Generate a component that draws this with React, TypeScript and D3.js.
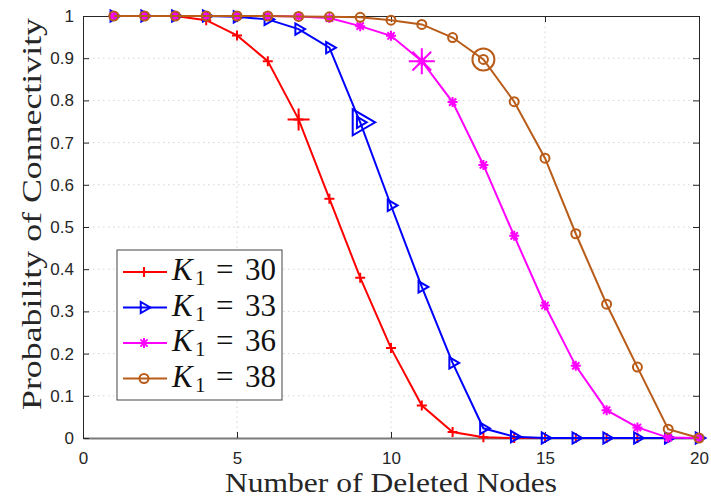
import React, { useRef, useEffect } from 'react';
import * as d3 from 'd3';

// number of deleted nodes (x axis)
const deletedNodes = [1, 2, 3, 4, 5, 6, 7, 8, 9, 10, 11, 12, 13, 14, 15, 16, 17, 18, 19, 20];

// probability of connectivity, one array per K1
const probK30 = [1, 1, 1, 0.99, 0.954, 0.893, 0.755, 0.567, 0.38, 0.213, 0.077, 0.014, 0.002, 0, 0, 0, 0, 0, 0, 0];
const probK33 = [1, 1, 1, 1, 0.998, 0.992, 0.969, 0.925, 0.748, 0.551, 0.358, 0.178, 0.023, 0.003, 0, 0, 0, 0, 0, 0];
const probK36 = [1, 1, 1, 1, 1, 1, 0.999, 0.995, 0.976, 0.953, 0.893, 0.796, 0.647, 0.479, 0.314, 0.171, 0.066, 0.025, 0.001, 0];
const probK38 = [1, 1, 1, 1, 1, 1, 0.999, 0.998, 0.997, 0.99, 0.98, 0.949, 0.897, 0.797, 0.663, 0.484, 0.317, 0.168, 0.021, 0];

const seriesLabels = ['30', '33', '36', '38'];
// the one point per curve drawn with a big marker
const highlightX = [7, 9, 11, 13];

const xTicks = [0, 5, 10, 15, 20];
const yTicks = [0, 0.1, 0.2, 0.3, 0.4, 0.5, 0.6, 0.7, 0.8, 0.9, 1];

const colors = ['#ff0000', '#0000ff', '#ff00ff', '#b95c19'];
const markers = ['plus', 'tri', 'star', 'circle'];

const W = 711;
const H = 497;
const margin = { top: 16, right: 12, bottom: 59, left: 83 };

function markerPath(type: string, s: number) {
    if (type == 'plus') {
        return `M${-s},0H${s}M0,${-s}V${s}`;
    }
    if (type == 'star') {
        var d = s * 0.72;
        return `M${-s},0H${s}M0,${-s}V${s}M${-d},${-d}L${d},${d}M${-d},${d}L${d},${-d}`;
    }
    if (type == 'tri') {
        return `M${s},0L${-s * 0.5},${-s * 0.866}L${-s * 0.5},${s * 0.866}Z`;
    }
    // circle
    return `M${s},0A${s},${s} 0 1,1 ${-s},0A${s},${s} 0 1,1 ${s},0Z`;
}

const smallSize: any = { plus: 5, tri: 6.5, star: 5, circle: 4.5 };
const bigSize: any = { plus: 11, tri: 15, star: 13, circle: 11 };

const Chart = () => {
    const ref = useRef(null);

    useEffect(() => {
        const svg = d3.select(ref.current);
        svg.selectAll('*').remove();

        var plotW = W - margin.left - margin.right;
        var plotH = H - margin.top - margin.bottom;

        var xScale = d3.scaleLinear().domain([0, 20]).range([margin.left, margin.left + plotW]);
        var yScale = d3.scaleLinear().domain([0, 1]).range([margin.top + plotH, margin.top]);

        svg.append('rect')
            .attr('width', W).attr('height', H).attr('fill', '#fff');

        // grid
        var grid = svg.append('g');
        grid.selectAll('.gx')
            .data(xTicks.slice(1, -1))
            .enter()
            .append('line')
            .attr('x1', function (d) { return xScale(d); })
            .attr('x2', function (d) { return xScale(d); })
            .attr('y1', yScale(0)).attr('y2', yScale(1))
            .attr('stroke', '#d4d4d4').attr('stroke-width', 1)
            .attr('stroke-dasharray', '1.5,3.5');
        grid.selectAll('.gy')
            .data(yTicks.slice(1, -1))
            .enter()
            .append('line')
            .attr('y1', function (d) { return yScale(d); })
            .attr('y2', function (d) { return yScale(d); })
            .attr('x1', xScale(0)).attr('x2', xScale(20))
            .attr('stroke', '#d4d4d4').attr('stroke-width', 1)
            .attr('stroke-dasharray', '1.5,3.5');

        // axes (MATLAB style: ticks inside, box)
        var bottomAxis = svg.append('g')
            .attr('transform', 'translate(0,' + yScale(0) + ')')
            .call(d3.axisBottom(xScale).tickValues(xTicks).tickSizeInner(-6).tickSizeOuter(0).tickPadding(14));
        var topAxis = svg.append('g')
            .attr('transform', 'translate(0,' + yScale(1) + ')')
            .call(d3.axisTop(xScale).tickValues(xTicks).tickSizeInner(-6).tickSizeOuter(0).tickFormat(() => ''));
        var leftAxis = svg.append('g')
            .attr('transform', 'translate(' + xScale(0) + ',0)')
            .call(d3.axisLeft(yScale).tickValues(yTicks).tickSizeInner(-6).tickSizeOuter(0).tickPadding(9)
                .tickFormat(function (d: any) { return d == 0 || d == 1 ? String(d) : d3.format('.1f')(d); }));
        var rightAxis = svg.append('g')
            .attr('transform', 'translate(' + xScale(20) + ',0)')
            .call(d3.axisRight(yScale).tickValues(yTicks).tickSizeInner(-6).tickSizeOuter(0).tickFormat(() => ''));

        [bottomAxis, topAxis, leftAxis, rightAxis].forEach(function (a) {
            a.selectAll('path').attr('stroke', '#262626').attr('stroke-width', 1);
            a.selectAll('line').attr('stroke', '#262626').attr('stroke-width', 1);
            a.selectAll('text')
                .attr('fill', '#262626')
                .style('font-family', 'Liberation Sans, Arial, sans-serif')
                .style('font-size', '17px');
        });
        bottomAxis.select('path').attr('stroke', '#7a7a7a').attr('stroke-width', 2);

        // axis labels
        svg.append('text')
            .attr('x', (xScale(0) + xScale(20)) / 2)
            .attr('y', 492)
            .attr('text-anchor', 'middle')
            .attr('textLength', 332)
            .attr('lengthAdjust', 'spacingAndGlyphs')
            .style('font-family', 'Liberation Serif, serif')
            .style('font-size', '28px')
            .attr('fill', '#262626')
            .text('Number of Deleted Nodes');
        svg.append('text')
            .attr('transform', 'translate(41,' + (yScale(0.5) - 13) + ') rotate(-90)')
            .attr('text-anchor', 'middle')
            .attr('textLength', 392)
            .attr('lengthAdjust', 'spacingAndGlyphs')
            .style('font-family', 'Liberation Serif, serif')
            .style('font-size', '28px')
            .attr('fill', '#262626')
            .text('Probability of Connectivity');

        // curves
        var allSeries = [probK30, probK33, probK36, probK38];
        var line = d3.line()
            .x(function (d: any) { return xScale(d[0]); })
            .y(function (d: any) { return yScale(d[1]); });

        allSeries.forEach(function (vals, i) {
            var pts: any = deletedNodes.map(function (x, j) { return [x, vals[j]]; });
            var g = svg.append('g');
            g.append('path')
                .attr('d', line(pts))
                .attr('fill', 'none')
                .attr('stroke', colors[i])
                .attr('stroke-width', 2);
            g.selectAll('.m')
                .data(pts)
                .enter()
                .append('path')
                .attr('transform', function (d: any) { return 'translate(' + xScale(d[0]) + ',' + yScale(d[1]) + ')'; })
                .attr('d', markerPath(markers[i], smallSize[markers[i]]))
                .attr('fill', 'none')
                .attr('stroke', colors[i])
                .attr('stroke-width', 2);
            var hx = highlightX[i];
            var hy = vals[deletedNodes.indexOf(hx)];
            g.append('path')
                .attr('transform', 'translate(' + xScale(hx) + ',' + yScale(hy) + ')')
                .attr('d', markerPath(markers[i], bigSize[markers[i]]))
                .attr('fill', 'none')
                .attr('stroke', colors[i])
                .attr('stroke-width', 2);
        });

        // legend
        var lg = svg.append('g').attr('transform', 'translate(117,250)');
        lg.append('rect')
            .attr('width', 165).attr('height', 150)
            .attr('fill', '#fff')
            .attr('stroke', '#444').attr('stroke-width', 1);
        seriesLabels.forEach(function (lab, i) {
            var y = 22 + i * 35.5;
            lg.append('line')
                .attr('x1', 6).attr('x2', 50)
                .attr('y1', y).attr('y2', y)
                .attr('stroke', colors[i]).attr('stroke-width', 2);
            lg.append('path')
                .attr('transform', 'translate(27,' + y + ')')
                .attr('d', markerPath(markers[i], smallSize[markers[i]]))
                .attr('fill', 'none')
                .attr('stroke', colors[i]).attr('stroke-width', 2);
            var tg = lg.append('g')
                .style('font-family', 'Liberation Serif, serif')
                .attr('fill', '#111');
            tg.append('text')
                .attr('x', 55).attr('y', y + 8)
                .style('font-size', '31px').style('font-style', 'italic')
                .text('K');
            tg.append('text')
                .attr('x', 78).attr('y', y + 13)
                .style('font-size', '21px')
                .text('1');
            tg.append('text')
                .attr('x', 99).attr('y', y + 8)
                .style('font-size', '31px')
                .text('=');
            tg.append('text')
                .attr('x', 128).attr('y', y + 8)
                .style('font-size', '31px')
                .text(lab);
        });
    }, []);

    return (
        <svg ref={ref} width={W} height={H} style={{ position: 'absolute', left: 0, top: 0 }}></svg>
    );
};

export default function App() {
    return <Chart />;
}
